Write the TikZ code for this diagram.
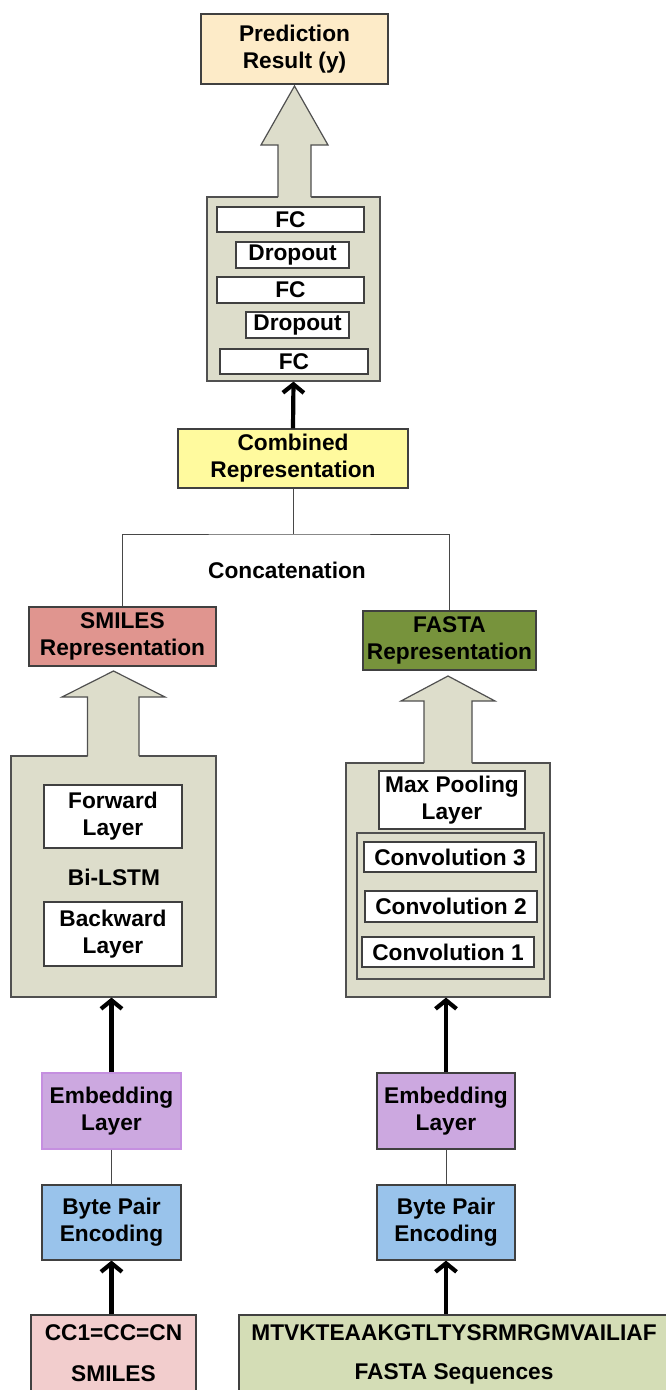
\documentclass[tikz,border=0pt]{standalone}
\usepackage{fontspec}
\setmainfont{Liberation Sans}
\usetikzlibrary{arrows.meta}
\definecolor{predc}{HTML}{FDEBC8}
\definecolor{contc}{HTML}{DDDDCB}
\definecolor{combc}{HTML}{FFFA9E}
\definecolor{smrepc}{HTML}{E0958F}
\definecolor{farepc}{HTML}{77933C}
\definecolor{embc}{HTML}{CCA8E0}
\definecolor{embb}{HTML}{C58FE0}
\definecolor{bpec}{HTML}{99C3EB}
\definecolor{inonec}{HTML}{F2CDCD}
\definecolor{intwoc}{HTML}{D4DDB6}
\definecolor{bordc}{HTML}{404040}
\definecolor{contb}{HTML}{505050}
\definecolor{connc}{HTML}{484848}
\begin{document}
\begin{tikzpicture}[x=1pt,y=-1pt,
  txt/.style={inner sep=0pt, align=center, font=\fontsize{22.7}{27}\selectfont\bfseries},
  box/.style={txt, draw=bordc, line width=1.2pt},
  cont/.style={draw=contb, line width=1.2pt, fill=contc, inner sep=0pt},
  arrline/.style={draw=contb, line width=1.2pt, line join=miter},
  conn/.style={draw=connc, line width=1pt},
  thickarr/.style={line width=4.2pt, -{Straight Barb[length=8.5pt,width=21pt]}},
]
\useasboundingbox (0,0) rectangle (665,1390);

% ---------- top ----------
\node[box, fill=predc, minimum width=187pt, minimum height=70pt] (pred) at (294.5,49) {Prediction\\Result (y)};

\node[cont, minimum width=173pt, minimum height=184pt] (fcc) at (293.5,289) {};
\fill[contc] (278,198) -- (278,145) -- (261,145) -- (294.5,86) -- (328,145) -- (311,145) -- (311,198) -- cycle;
\draw[arrline] (278,197) -- (278,145) -- (261,145) -- (294.5,86) -- (328,145) -- (311,145) -- (311,197);

\node[box, fill=white, minimum width=147pt, minimum height=25pt] (fc1) at (290.5,219.5) {FC};
\node[box, fill=white, minimum width=113pt, minimum height=26pt] (do1) at (292.5,255) {Dropout};
\node[box, fill=white, minimum width=147pt, minimum height=26pt] (fc2) at (290.5,290) {FC};
\node[box, fill=white, minimum width=103pt, minimum height=26pt] (do2) at (297.5,325) {Dropout};
\node[box, fill=white, minimum width=148pt, minimum height=25pt] (fc3) at (294,361.5) {FC};

\node[box, fill=combc, minimum width=230pt, minimum height=59pt] (comb) at (293,458.5) {Combined\\Representation};
\draw[thickarr] (comb.north) -- (fcc.south);

% ---------- concatenation ----------
\node[box, fill=smrepc, minimum width=187pt, minimum height=59pt] (smrep) at (122.5,636.5) {SMILES\\Representation};
\node[box, fill=farepc, minimum width=173pt, minimum height=59pt] (farep) at (449.5,640.5) {FASTA\\Representation};
\coordinate (cj) at (293,534);
\draw[conn] (comb.south) -- (cj);
\draw[conn] (smrep.north) |- (cj) -| (farep.north);
\node[txt] (concat) at (287,570) {Concatenation};

% ---------- Bi-LSTM ----------
\node[cont, minimum width=205pt, minimum height=241pt] (bilc) at (113.5,876.5) {};
\fill[contc] (87.5,757) -- (87.5,697) -- (62,697) -- (113.5,671) -- (165,697) -- (139,697) -- (139,757) -- cycle;
\draw[arrline] (87.5,756) -- (87.5,697) -- (62,697) -- (113.5,671) -- (165,697) -- (139,697) -- (139,756);
\node[box, fill=white, minimum width=138pt, minimum height=63pt] (fwd) at (113,816.5) {Forward\\Layer};
\node[txt] (bilstm) at (114,877) {Bi-LSTM};
\node[box, fill=white, minimum width=138pt, minimum height=64pt] (bwd) at (113,934) {Backward\\Layer};

% ---------- CNN ----------
\node[cont, minimum width=204pt, minimum height=234pt] (cnnc) at (448,880) {};
\fill[contc] (424,764) -- (424,701) -- (401,701) -- (448,676) -- (495,701) -- (472,701) -- (472,764) -- cycle;
\draw[arrline] (424,763) -- (424,701) -- (401,701) -- (448,676) -- (495,701) -- (472,701) -- (472,763);
\node[box, fill=white, minimum width=146pt, minimum height=58pt] (maxp) at (452,800) {Max Pooling\\Layer};
\node[cont, minimum width=187pt, minimum height=146pt] (convc) at (450.5,906) {};
\node[box, fill=white, minimum width=172pt, minimum height=30pt] (cv3) at (450,857) {Convolution 3};
\node[box, fill=white, minimum width=172pt, minimum height=31pt] (cv2) at (451,906.5) {Convolution 2};
\node[box, fill=white, minimum width=172pt, minimum height=30pt] (cv1) at (448,952) {Convolution 1};

% ---------- embedding / BPE ----------
\node[box, fill=embc, draw=embb, minimum width=139pt, minimum height=76pt] (emb1) at (111.5,1111) {Embedding\\Layer};
\node[box, fill=bpec, minimum width=139pt, minimum height=75pt] (bpe1) at (111.5,1222.5) {Byte Pair\\Encoding};
\node[box, fill=embc, minimum width=138pt, minimum height=76pt] (emb2) at (446,1111) {Embedding\\Layer};
\node[box, fill=bpec, minimum width=138pt, minimum height=75pt] (bpe2) at (446,1222.5) {Byte Pair\\Encoding};
\draw[conn] (emb1.south) -- (bpe1.north);
\draw[conn] (emb2.south) -- (bpe2.north);
\draw[thickarr] (emb1.north) -- (bilc.south -| emb1.north);
\draw[thickarr] (emb2.north) -- (cnnc.south -| emb2.north);

% ---------- inputs ----------
\node[box, fill=inonec, minimum width=165pt, minimum height=85pt] (in1) at (113.5,1357.5) {};
\node[txt] (in1a) at (113.5,1333) {CC1=CC=CN};
\node[txt] (in1b) at (113.5,1374) {SMILES};
\node[box, fill=intwoc, minimum width=431pt, minimum height=85pt] (in2) at (454.5,1357.5) {};
\node[txt] (in2a) at (454,1333) {MTVKTEAAKGTLTYSRMRGMVAILIAF};
\node[txt] (in2b) at (454,1374) {FASTA Sequences};
\draw[thickarr] (in1.north -| bpe1.south) -- (bpe1.south);
\draw[thickarr] (in2.north -| bpe2.south) -- (bpe2.south);
\end{tikzpicture}
\end{document}
